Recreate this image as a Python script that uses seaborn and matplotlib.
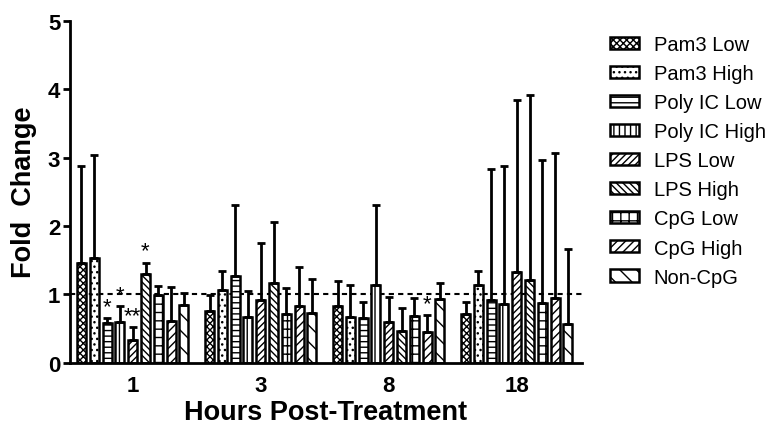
import numpy as np
import pandas as pd
import seaborn as sns
import matplotlib.pyplot as plt
import matplotlib.patches as mpatches

# data
hours = ['1', '3', '8', '18']
treatments = ['Pam3 Low', 'Pam3 High', 'Poly IC Low', 'Poly IC High', 'LPS Low',
              'LPS High', 'CpG Low', 'CpG High', 'Non-CpG']

pam3_low = [1.46, 0.75, 0.83, 0.71]
pam3_high = [1.53, 1.06, 0.67, 1.14]
polyic_low = [0.58, 1.26, 0.65, 0.92]
polyic_high = [0.60, 0.66, 1.13, 0.86]
lps_low = [0.33, 0.92, 0.59, 1.32]
lps_high = [1.29, 1.17, 0.46, 1.21]
cpg_low = [0.99, 0.71, 0.68, 0.87]
cpg_high = [0.61, 0.83, 0.45, 0.94]
non_cpg = [0.84, 0.72, 0.93, 0.56]

# tops of the error bars
pam3_low_top = [2.88, 0.99, 1.19, 0.88]
pam3_high_top = [3.04, 1.34, 1.13, 1.34]
polyic_low_top = [0.65, 2.30, 0.89, 2.84]
polyic_high_top = [0.82, 1.04, 2.31, 2.87]
lps_low_top = [0.52, 1.75, 0.96, 3.84]
lps_high_top = [1.46, 2.05, 0.80, 3.91]
cpg_low_top = [1.12, 1.09, 0.94, 2.96]
cpg_high_top = [1.11, 1.40, 0.69, 3.07]
non_cpg_top = [1.02, 1.22, 1.16, 1.66]

# significance marks: (hour index, treatment index, label)
stars = [(0, 2, '*'), (0, 3, '*'), (0, 4, '**'), (0, 5, '*'), (2, 7, '*')]

means = [pam3_low, pam3_high, polyic_low, polyic_high, lps_low, lps_high,
         cpg_low, cpg_high, non_cpg]
tops = [pam3_low_top, pam3_high_top, polyic_low_top, polyic_high_top, lps_low_top,
        lps_high_top, cpg_low_top, cpg_high_top, non_cpg_top]

hatches = ['xxxxx', '...', '---', '|||', '/////', '\\\\\\\\\\', '++', '////', '\\\\']

rows = []
for t, m in zip(treatments, means):
    for h, v in zip(hours, m):
        rows.append({'Hours': h, 'Treatment': t, 'Fold Change': v})
df = pd.DataFrame(rows)

sns.set_style('ticks')
plt.rcParams['font.family'] = ['Liberation Sans', 'DejaVu Sans']
plt.rcParams['hatch.linewidth'] = 1.0
for k in ['text.color', 'axes.labelcolor', 'xtick.color', 'ytick.color',
          'axes.edgecolor']:
    plt.rcParams[k] = 'black'

fig = plt.figure(figsize=(7.74, 4.27), dpi=100)
ax = fig.add_axes([0.0904, 0.1487, 0.6616, 0.7998])

sns.barplot(data=df, x='Hours', y='Fold Change', hue='Treatment', order=hours,
            hue_order=treatments, width=0.9, gap=0.3, palette=['white'] * 9,
            edgecolor='black', linewidth=1.8, errorbar=None, legend=False, ax=ax)

bar_conts = list(ax.containers)
for i, cont in enumerate(bar_conts):
    for j, bar in enumerate(cont):
        bar.set_facecolor('white')
        bar.set_hatch(hatches[i])
        xc = bar.get_x() + bar.get_width() / 2
        h = bar.get_height()
        ax.errorbar(xc, h, yerr=[[0], [tops[i][j] - h]], color='black',
                    lw=2, capsize=3, capthick=2, zorder=1)

for j, i, lab in stars:
    bar = bar_conts[i][j]
    xc = bar.get_x() + bar.get_width() / 2
    ax.text(xc, tops[i][j] + 0.17, lab, ha='center', va='center', fontsize=16)

ax.axhline(1, color='black', ls=(0, (2.5, 2)), lw=1.5, zorder=0.5)

ax.set_xlim(-0.49, 3.51)
ax.set_ylim(0, 5)
ax.set_yticks(range(6))
sns.despine(ax=ax)
for s in ['left', 'bottom']:
    ax.spines[s].set_linewidth(2)
ax.tick_params(axis='y', length=5, width=2, labelsize=16, pad=2)
ax.tick_params(axis='x', length=0, labelsize=16, pad=9)
for lab in ax.get_xticklabels() + ax.get_yticklabels():
    lab.set_fontweight('bold')
ax.set_xlabel('Hours Post-Treatment', fontsize=19.5, fontweight='bold', labelpad=2)
ax.set_ylabel('Fold  Change', fontsize=19.5, fontweight='bold', labelpad=8)

handles = [mpatches.Patch(facecolor='white', edgecolor='black', lw=1.8, hatch=hh)
           for hh in hatches]
fig.legend(handles, treatments, loc='upper left', bbox_to_anchor=(0.765, 0.958),
           frameon=False, fontsize=14.5, handlelength=1.45, handleheight=0.55,
           labelspacing=0.5, handletextpad=0.7)

plt.savefig('out.png', dpi=100)
